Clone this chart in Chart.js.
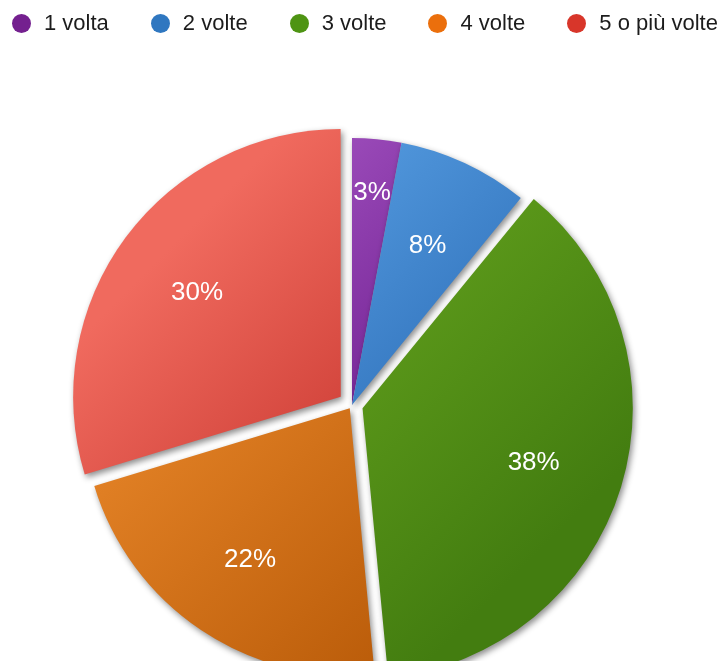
<!DOCTYPE html>
<html lang="it">
<head>
<meta charset="utf-8">
<title>Frequenza</title>
<script src="https://cdn.jsdelivr.net/npm/chart.js@4.4.1/dist/chart.umd.min.js"></script>
<style>
  html, body { margin: 0; padding: 0; background: #fff; overflow: hidden; }
  #wrap { position: relative; width: 720px; height: 661px; }
  #legend {
    position: absolute; top: 10px; left: 12px;
    display: flex; align-items: center; gap: 42px;
    font: 22px "Liberation Sans", Arial, Helvetica, sans-serif; color: #1c1c1c;
    white-space: nowrap;
  }
  #legend .item { display: flex; align-items: center; }
  #legend .dot { width: 19px; height: 19px; border-radius: 50%; margin-right: 13px; }
</style>
</head>
<body>
<div id="wrap">
  <canvas id="pieChart"></canvas>
  <div id="legend"></div>
</div>
<script>
// dati
const labels = ['1 volta', '2 volte', '3 volte', '4 volte', '5 o più volte'];
const values = [3, 8, 38, 22, 30];

// colori legenda e sfumature delle fette
const legendColors = ['#74208f', '#2f77c0', '#4e9413', '#eb6f0c', '#d8362a'];
const shades = [
  ['#a050be', '#520275'],
  ['#589fe3', '#1e5da9'],
  ['#6aa920', '#437d10'],
  ['#ec8a2c', '#b85a08'],
  ['#f06a5e', '#b9241e'],
];
const explode = [0, 0, 44, 16, 56];
const RADIUS = 267;

// sfumatura diagonale sul riquadro della torta
function sliceGradient(context) {
  const chart = context.chart;
  const area = chart.chartArea;
  if (!area) return legendColors[context.dataIndex];
  const cx = (area.left + area.right) / 2;
  const cy = (area.top + area.bottom) / 2;
  const g = chart.ctx.createLinearGradient(cx - RADIUS, cy - RADIUS, cx + RADIUS, cy + RADIUS);
  const s = shades[context.dataIndex];
  g.addColorStop(0.2, s[0]);
  g.addColorStop(0.8, s[1]);
  return g;
}

// ombra sotto le fette
const sliceShadow = {
  id: 'sliceShadow',
  beforeDatasetsDraw(chart) {
    const c = chart.ctx;
    c.save();
    c.shadowColor = 'rgba(0,0,0,0.45)';
    c.shadowBlur = 6;
    c.shadowOffsetX = 2;
    c.shadowOffsetY = 3;
  },
  afterDatasetsDraw(chart) {
    chart.ctx.restore();
  }
};

// percentuali dentro le fette
const sliceLabels = {
  id: 'sliceLabels',
  afterDraw(chart) {
    const c = chart.ctx;
    const meta = chart.getDatasetMeta(0);
    c.save();
    c.fillStyle = '#fff';
    c.font = '26px "Liberation Sans", Arial, sans-serif';
    c.textAlign = 'center';
    c.textBaseline = 'alphabetic';
    meta.data.forEach((arc, i) => {
      const p = arc.getProps(['x', 'y', 'startAngle', 'endAngle', 'outerRadius'], true);
      const mid = (p.startAngle + p.endAngle) / 2;
      const narrow = p.endAngle - p.startAngle < 0.3;
      const r = (arc.options.offset || 0) / 4 + p.outerRadius * (narrow ? 0.81 : 0.67);
      // baseline spostata di mezza altezza delle cifre
      c.fillText(values[i] + '%', p.x + Math.cos(mid) * r, p.y + Math.sin(mid) * r + 10);
    });
    c.restore();
  }
};

const ctx = document.getElementById('pieChart').getContext('2d');
const pieChart = new Chart(ctx, {
  type: 'pie',
  data: {
    labels: labels,
    datasets: [{
      data: values,
      backgroundColor: sliceGradient,
      borderWidth: 0,
      offset: explode,
      hoverOffset: 0,
    }],
  },
  options: {
    responsive: true,
    maintainAspectRatio: false,
    animation: false,
    radius: RADIUS,
    layout: { padding: { top: 149, right: 16 } },
    plugins: {
      legend: { display: false },
      tooltip: { enabled: false },
    },
  },
  plugins: [sliceShadow, sliceLabels],
});

// legenda html
const legendEl = document.getElementById('legend');
pieChart.data.labels.forEach((label, i) => {
  const item = document.createElement('div');
  item.className = 'item';
  const dot = document.createElement('span');
  dot.className = 'dot';
  dot.style.background = legendColors[i];
  item.appendChild(dot);
  item.appendChild(document.createTextNode(label));
  legendEl.appendChild(item);
});
</script>
</body>
</html>
